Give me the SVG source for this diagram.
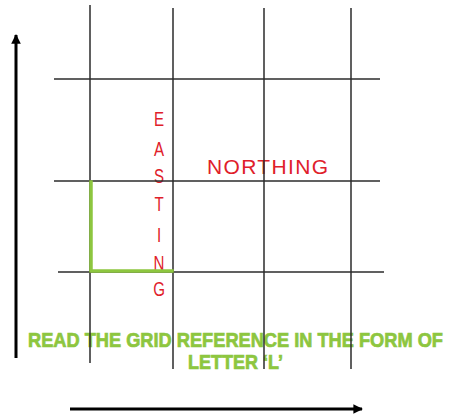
<svg xmlns="http://www.w3.org/2000/svg" width="451" height="418" viewBox="0 0 451 418">
<defs>
<style>
.grid{stroke:#2b2b2b;stroke-width:1.5;fill:none}
.axis{stroke:#000;stroke-width:3;fill:none}
.ell{stroke:#8DC63F;stroke-width:3.5;fill:none;stroke-linecap:square}
.red{fill:#E0202A;font-family:"Liberation Sans",Arial,sans-serif;font-size:21px}
.green{fill:#8DC63F;stroke:#8DC63F;stroke-width:0.7;font-family:"Liberation Sans",Arial,sans-serif;font-size:20px;font-weight:bold}
</style>
<marker id="ah" viewBox="0 0 10 10" refX="9" refY="5" markerWidth="3.2" markerHeight="3.2" orient="auto" markerUnits="strokeWidth">
<path d="M0,0 L10,5 L0,10 z" fill="#000"/>
</marker>
</defs>
<rect width="451" height="418" fill="#fff"/>
<g id="easting">
<g class="red" text-anchor="middle" transform="translate(159,0) scale(0.72,1)">
<text x="0" y="126">E</text>
<text x="0" y="156">A</text>
<text x="0" y="183">S</text>
<text x="0" y="211">T</text>
<text x="0" y="242">I</text>
<text x="0" y="270">N</text>
<text x="0" y="296">G</text>
</g>
</g>
<g id="northing">
<text class="red" x="207" y="174" textLength="121" lengthAdjust="spacing">NORTHING</text>
</g>
<g id="caption">
<text class="green" x="28" y="347" textLength="415" lengthAdjust="spacingAndGlyphs">READ THE GRID REFERENCE IN THE FORM OF</text>
<text class="green" x="188" y="369" textLength="95" lengthAdjust="spacingAndGlyphs">LETTER ‘L’</text>
</g>
<g id="connectors">
<g id="grid">
<line class="grid" x1="90" y1="5" x2="90" y2="363"/>
<line class="grid" x1="173" y1="8" x2="173" y2="369"/>
<line class="grid" x1="264" y1="8" x2="264" y2="369"/>
<line class="grid" x1="351" y1="8" x2="351" y2="369"/>
<line class="grid" x1="54" y1="79" x2="380" y2="79"/>
<line class="grid" x1="54" y1="181" x2="380" y2="181"/>
<line class="grid" x1="58" y1="272" x2="384" y2="272"/>
</g>
<line id="y-axis" class="axis" x1="16" y1="358" x2="16" y2="35" marker-end="url(#ah)"/>
<line id="x-axis" class="axis" x1="70" y1="409" x2="362" y2="409" marker-end="url(#ah)"/>
<path id="letter-l" class="ell" d="M91,182 L91,271 L172,271"/>
</g>
</svg>
